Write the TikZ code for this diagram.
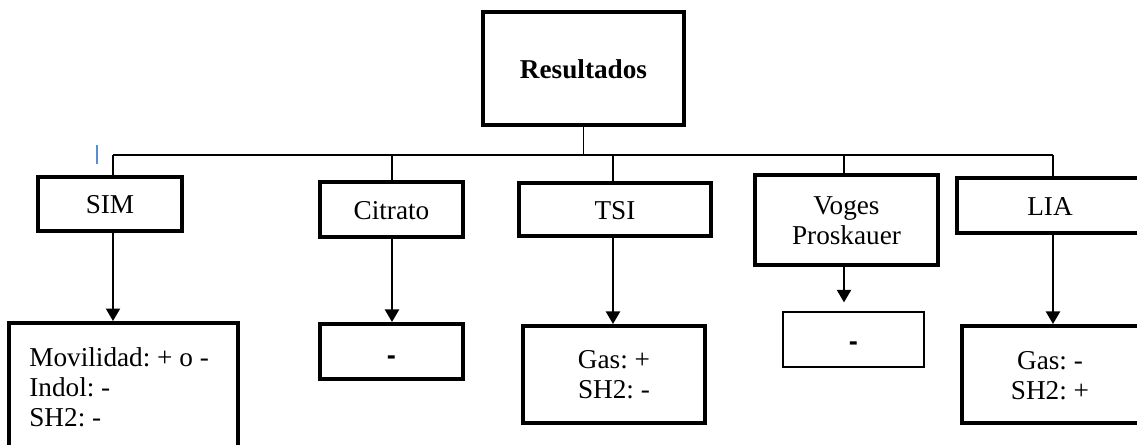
\documentclass[tikz,border=0pt]{standalone}
\usepackage{fontspec}
\setmainfont{Liberation Serif}
\newfontfamily\dashfont{Liberation Sans}
\usetikzlibrary{arrows.meta}
\begin{document}
\begin{tikzpicture}[x=0.02cm,y=-0.02cm,
  every node/.style={font=\fontsize{15.5}{17}\selectfont\frenchspacing},
  thickbox/.style={draw,line width=2.3pt,rectangle,inner sep=0pt},
  thinbox/.style={draw,line width=0.7pt,rectangle,inner sep=0pt},
  txt/.style={inner sep=0pt,anchor=base,align=center},
  link/.style={draw,line width=0.8pt},
  arr/.style={draw,line width=1.2pt,-{Triangle[width=0.28cm,length=0.25cm]}}]
\useasboundingbox (0,0) rectangle (1137,444);
\clip (0,0) rectangle (1137,444);
% top
\node[thickbox,minimum width=4.02cm,minimum height=2.26cm] (res) at (583.5,68.5) {};
\node[txt] (rest) at (583.5,78) {\textbf{Resultados}};
% bus coordinates
\coordinate (b1) at (113,155);
\coordinate (b2) at (392,155);
\coordinate (b3) at (613,155);
\coordinate (b4) at (844,155);
\coordinate (b5) at (1053,155);
% level 2
\node[thickbox,minimum width=2.88cm,minimum height=1.08cm] (sim) at (110,204) {};
\node[txt] (simt) at (110,213) {SIM};
\node[thickbox,minimum width=2.86cm,minimum height=1.1cm] (cit) at (391.5,209.5) {};
\node[txt] (citt) at (391.5,219) {Citrato};
\node[thickbox,minimum width=3.84cm,minimum height=1.06cm] (tsi) at (615,209.5) {};
\node[txt] (tsit) at (615,219) {TSI};
\node[thickbox,minimum width=3.66cm,minimum height=1.8cm] (vp) at (846.5,220) {};
\node[txt] (vpt) at (846.5,244) {Voges\\Proskauer};
\node[thickbox,minimum width=3.84cm,minimum height=1.1cm] (lia) at (1053,205.5) {};
\node[txt] (liat) at (1050,215) {LIA};
% level 3
\node[thickbox,minimum width=4.58cm,minimum height=2.94cm] (simr) at (123.5,396.5) {};
\node[txt,anchor=base west,align=left] (simrt) at (29,426) {Movilidad: + o -\\Indol: -\\SH2: -};
\node[thickbox,minimum width=2.86cm,minimum height=1.1cm] (citr) at (391.5,351.5) {};
\node[txt] (citrt) at (391.5,364) {\dashfont\bfseries -};
\node[thickbox,minimum width=3.64cm,minimum height=1.94cm] (tsir) at (614,374.5) {};
\node[txt] (tsirt) at (614,398) {Gas: +\\SH2: -};
\node[thinbox,minimum width=2.82cm,minimum height=1.1cm] (vpr) at (853.5,339.5) {};
\node[txt] (vprt) at (853.5,350) {\dashfont\bfseries -};
\node[thickbox,minimum width=3.64cm,minimum height=1.94cm] (liar) at (1053,374.5) {};
\node[txt] (liart) at (1050,399) {Gas: -\\SH2: +};
% connectors
\draw[link] (res.south) -- (res.south |- b1);
\draw[link] (b1) -- (b5);
\draw[link] (b1) -- (b1 |- sim.north);
\draw[link] (b2) -- (b2 |- cit.north);
\draw[link] (b3) -- (b3 |- tsi.north);
\draw[link] (b4) -- (b4 |- vp.north);
\draw[link] (b5) -- (b5 |- lia.north);
\draw[arr] (b1 |- sim.south) -- (b1 |- simr.north);
\draw[arr] (b2 |- cit.south) -- (b2 |- citr.north);
\draw[arr] (b3 |- tsi.south) -- (b3 |- tsir.north);
\draw[arr,shorten >=0.18cm] (b4 |- vp.south) -- (b4 |- vpr.north);
\draw[arr] (b5 |- lia.south) -- (b5 |- liar.north);
% cursor mark
\draw[line width=0.9pt,color={rgb,255:red,90;green,140;blue,210}] (97,145) -- (97,164);
\end{tikzpicture}
\end{document}
